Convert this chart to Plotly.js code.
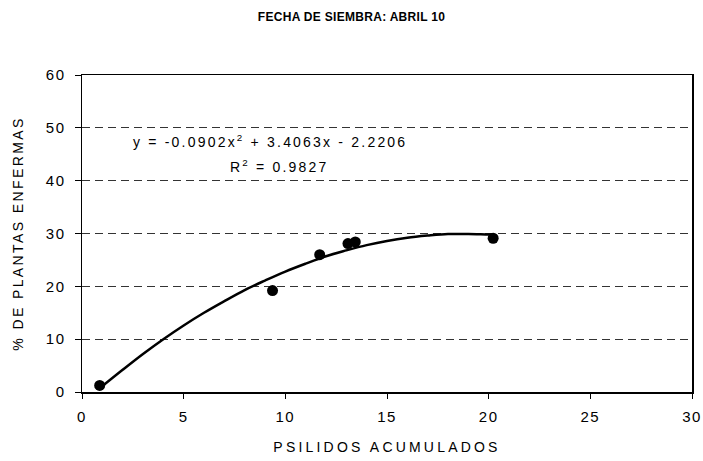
<!DOCTYPE html>
<html>
<head>
<meta charset="utf-8">
<script src="https://cdn.plot.ly/plotly-3.0.1.min.js"></script>
<style>
  html, body { margin: 0; padding: 0; background: #fff; }
  #chart { width: 703px; height: 461px; }
  .gtitle { letter-spacing: 0.3px; }
  .xtitle { letter-spacing: 3.2px; }
  .ytitle { letter-spacing: 2.4px; }
  .annotation-text { letter-spacing: 2.2px; }
  .xtick text, .ytick text { letter-spacing: 1.5px; }
</style>
</head>
<body>
<div id="chart"></div>
<script>
// Observed data points
const psilidos = [0.87, 9.37, 11.69, 13.08, 13.44, 20.22];
const plantasEnfermas = [1.25, 19.2, 26.0, 28.1, 28.4, 29.1];

// Trendline (polynomial fit drawn in the chart)
const trendX = [0.87, 2, 3, 4, 5, 6, 7, 8, 9, 10, 11, 12, 13, 14, 15, 16, 17, 18, 19, 20, 20.22];
const trendY = [0.7, 4.2, 7.2, 10.0, 12.6, 15.0, 17.2, 19.3, 21.1, 22.8, 24.3, 25.7, 26.8, 27.8, 28.6, 29.2, 29.6, 29.9, 29.9, 29.8, 29.8];

const titleText = "FECHA DE SIEMBRA: ABRIL 10";
const xTitle = "PSILIDOS ACUMULADOS";
const yTitle = "% DE PLANTAS ENFERMAS";
const eqText = "y = -0.0902x<sup>2</sup> + 3.4063x - 2.2206";
const r2Text = "R<sup>2</sup> = 0.9827";

const font = "Liberation Sans, Arial, sans-serif";

const traces = [
  {
    x: trendX, y: trendY, type: "scatter", mode: "lines",
    line: { color: "#000", width: 2.5, shape: "spline" },
    hoverinfo: "skip", showlegend: false
  },
  {
    x: psilidos, y: plantasEnfermas, type: "scatter", mode: "markers",
    marker: { color: "#000", size: 11, symbol: "circle" },
    showlegend: false
  }
];

const layout = {
  width: 703, height: 461,
  margin: { l: 81.7, r: 11.3, t: 75.3, b: 68.7 },
  paper_bgcolor: "#fff", plot_bgcolor: "#fff",
  font: { family: font, color: "#000", size: 14 },
  title: {
    text: "<b>" + titleText + "</b>",
    font: { family: font, size: 12, color: "#000" },
    x: 0.5, xanchor: "center", xref: "container",
    y: 0.963, yanchor: "middle", yref: "container"
  },
  xaxis: {
    range: [0, 30], tickvals: [0, 5, 10, 15, 20, 25, 30],
    ticks: "outside", ticklen: 5, tickwidth: 1, tickcolor: "#000",
    ticklabelstandoff: 5,
    showline: true, linecolor: "#000", linewidth: 1.5, mirror: true,
    showgrid: false, zeroline: false,
    tickfont: { family: font, size: 15, color: "#000" },
    title: { text: xTitle, font: { family: font, size: 14, color: "#000" }, standoff: 18 },
    fixedrange: true
  },
  yaxis: {
    range: [0, 60], tickvals: [0, 10, 20, 30, 40, 50, 60],
    ticks: "outside", ticklen: 6, tickwidth: 1, tickcolor: "#000",
    ticklabelstandoff: 6,
    showline: true, linecolor: "#000", linewidth: 1.5, mirror: true,
    showgrid: true, gridcolor: "#333", griddash: "8px,5px", gridwidth: 1,
    zeroline: false,
    tickfont: { family: font, size: 15, color: "#000" },
    title: { text: yTitle, font: { family: font, size: 14, color: "#000" }, standoff: 19 },
    fixedrange: true
  },
  annotations: [
    { text: eqText, x: 9.24, y: 47.6, xref: "x", yref: "y", showarrow: false,
      xanchor: "center", yanchor: "middle", font: { family: font, size: 14, color: "#000" } },
    { text: r2Text, x: 9.7, y: 42.7, xref: "x", yref: "y", showarrow: false,
      xanchor: "center", yanchor: "middle", font: { family: font, size: 14, color: "#000" } }
  ]
};

Plotly.newPlot("chart", traces, layout, { displayModeBar: false, staticPlot: true });
</script>
</body>
</html>
